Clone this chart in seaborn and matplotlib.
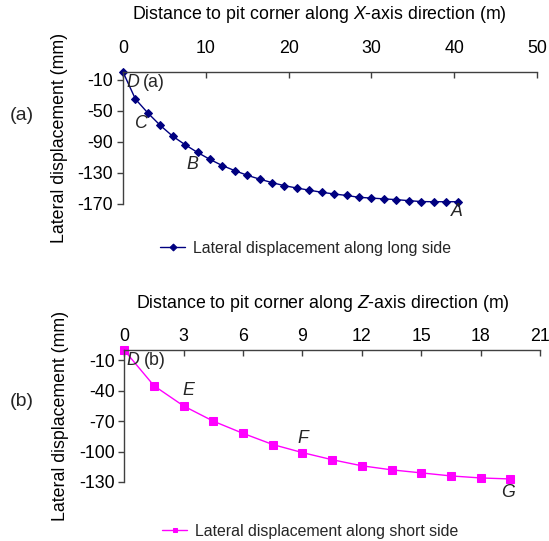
import numpy as np
import pandas as pd
import matplotlib
matplotlib.use("Agg")
import matplotlib.pyplot as plt
import seaborn as sns

# Long side (X direction): distance from the pit corner (m) and lateral displacement (mm)
x_long = [0, 1.5, 3, 4.5, 6, 7.5, 9, 10.5, 12, 13.5, 15, 16.5, 18, 19.5,
          21, 22.5, 24, 25.5, 27, 28.5, 30, 31.5, 33, 34.5, 36, 37.5, 39, 40.5]
disp_long = [0, -35, -53, -69, -83, -94, -104, -113, -121, -127.5, -133.5, -138.5,
             -143, -147, -150, -152.8, -155.5, -157.7, -159.6, -162, -163, -164,
             -165, -166.3, -167.5, -167.7, -167.7, -167.7]

# Short side (Z direction)
x_short = [0, 1.5, 3, 4.5, 6, 7.5, 9, 10.5, 12, 13.5, 15, 16.5, 18, 19.5]
disp_short = [0, -35, -55, -70, -82, -93, -101, -108, -114, -118, -121, -124, -126, -127]

long_ticks_x = [0, 10, 20, 30, 40, 50]
long_ticks_y = [-170, -130, -90, -50, -10]
short_ticks_x = [0, 3, 6, 9, 12, 15, 18, 21]
short_ticks_y = [-130, -100, -70, -40, -10]

NAVY = "#000080"
MAGENTA = "#FF00FF"
AXIS_GREY = "#404040"

sns.set_theme(style="white")
plt.rcParams["font.family"] = ["Liberation Sans", "DejaVu Sans"]
plt.rcParams["mathtext.fontset"] = "custom"
plt.rcParams["mathtext.it"] = "Liberation Sans:italic"
plt.rcParams["mathtext.rm"] = "Liberation Sans"

FS = 12.8

fig = plt.figure(figsize=(5.49, 5.41), dpi=100)
ax_a = fig.add_axes([123 / 549, 1 - 203.5 / 541, 414 / 549, 131.5 / 541])
ax_b = fig.add_axes([124.3 / 549, 1 - 482 / 541, 415.7 / 549, 131.7 / 541])

df_long = pd.DataFrame({"x": x_long, "d": disp_long})
df_short = pd.DataFrame({"x": x_short, "d": disp_short})

sns.lineplot(data=df_long, x="x", y="d", ax=ax_a, color=NAVY, linewidth=1.0,
             marker="D", markersize=4, markeredgecolor=NAVY, markerfacecolor=NAVY,
             clip_on=False, label="Lateral displacement along long side", legend=False)
sns.lineplot(data=df_short, x="x", y="d", ax=ax_b, color=MAGENTA, linewidth=1.0,
             marker="s", markersize=5.5, markeredgecolor=MAGENTA, markerfacecolor=MAGENTA,
             clip_on=False, label="Lateral displacement along short side", legend=False)


def style_axes(ax, xlim, ylim, xticks, yticks, xlabel, tick_pad, label_pad, label_x):
    ax.set_xlim(*xlim)
    ax.set_ylim(*ylim)
    ax.set_xticks(xticks)
    ax.set_yticks(yticks)
    ax.set_xticklabels([str(t) for t in xticks], fontsize=FS, color="black")
    ax.set_yticklabels([str(t) for t in yticks], fontsize=FS, color="black")
    ax.xaxis.tick_top()
    ax.xaxis.set_label_position("top")
    ax.set_xlabel(xlabel, fontsize=FS, labelpad=label_pad, color="black")
    ax.xaxis.label.set_x(label_x)
    ax.set_ylabel("Lateral displacement (mm)", fontsize=FS, labelpad=7, color="black")
    for side in ("right", "bottom"):
        ax.spines[side].set_visible(False)
    for side in ("left", "top"):
        ax.spines[side].set_color(AXIS_GREY)
        ax.spines[side].set_linewidth(1.0)
    ax.tick_params(axis="x", which="major", direction="in", length=4, width=1.0,
                   color=AXIS_GREY, pad=tick_pad, top=True, bottom=False)
    ax.tick_params(axis="y", which="major", direction="out", length=4, width=1.0,
                   color=AXIS_GREY, pad=3, left=True)
    ax.grid(False)
    ax.set_facecolor("white")


style_axes(ax_a, (0, 50), (-170, 0), long_ticks_x, long_ticks_y,
           r"Distance to pit corner along $\mathit{X}$-axis direction (m)",
           tick_pad=11, label_pad=15, label_x=0.475)
style_axes(ax_b, (0, 21), (-130, 0), short_ticks_x, short_ticks_y,
           r"Distance to pit corner along $\mathit{Z}$-axis direction (m)",
           tick_pad=4, label_pad=14, label_x=0.478)

# Point labels along the curves
label_kw = dict(fontsize=FS, ha="center", va="center", clip_on=False)
ax_a.text(1.2, -13, "D", style="italic", **label_kw)
ax_a.text(3.75, -13, "(a)", **label_kw)
ax_a.text(2.05, -67, "C", style="italic", **label_kw)
ax_a.text(8.4, -119, "B", style="italic", **label_kw)
ax_a.text(40.3, -180.5, "A", style="italic", **label_kw)

ax_b.text(0.45, -10.3, "D", style="italic", **label_kw)
ax_b.text(1.55, -10.3, "(b)", **label_kw)
ax_b.text(3.23, -40, "E", style="italic", **label_kw)
ax_b.text(9.0, -87.5, "F", style="italic", **label_kw)
ax_b.text(19.4, -140, "G", style="italic", **label_kw)

# Panel tags
fig.text(22 / 549, 1 - 116 / 541, "(a)", fontsize=14, ha="center", va="center")
fig.text(22 / 549, 1 - 401 / 541, "(b)", fontsize=14, ha="center", va="center")

# Legends below each panel
leg_kw = dict(frameon=False, fontsize=11.4, handlelength=1.6, handletextpad=0.5,
              borderaxespad=0, borderpad=0, loc="center left")
h, l = ax_a.get_legend_handles_labels()
ax_a.legend(h, l, bbox_to_anchor=(160 / 549, 1 - 248.5 / 541),
            bbox_transform=fig.transFigure, **leg_kw)
h, l = ax_b.get_legend_handles_labels()
ax_b.legend(h, l, bbox_to_anchor=(162 / 549, 1 - 531.5 / 541),
            bbox_transform=fig.transFigure, **leg_kw)
for leg in (ax_a.get_legend(), ax_b.get_legend()):
    for line in leg.get_lines():
        line.set_markersize(3.5)

fig.savefig("out.png", dpi=100, facecolor="white")
